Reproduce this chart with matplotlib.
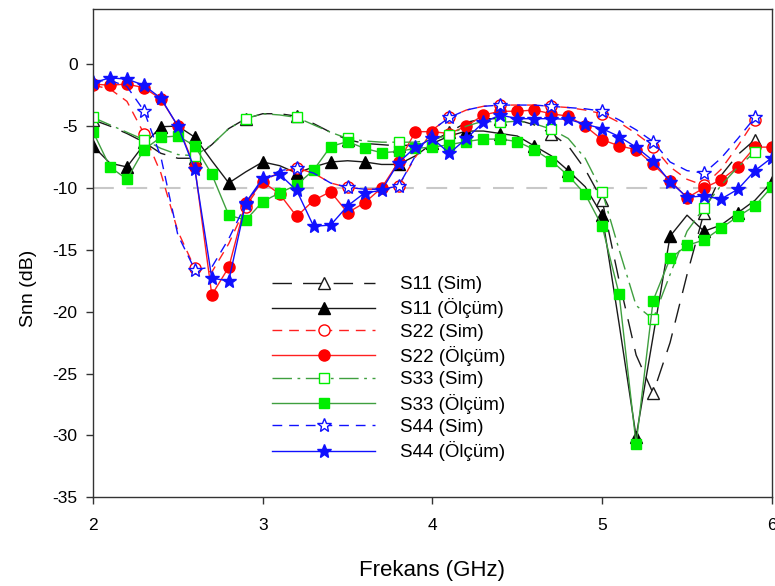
# S-parametre olcum / simulasyon karsilastirmasi

import numpy as np
import matplotlib
matplotlib.use("Agg")
import matplotlib.pyplot as plt

plt.rcParams["font.family"] = ["Liberation Sans", "DejaVu Sans"]
plt.rcParams["axes.unicode_minus"] = False

# ====================================
# DATA (dB), 2.0 - 6.0 GHz, 0.1 GHz step
# ====================================

freq = np.round(np.arange(20, 61) / 10, 1)

s11_sim = [-4.5, -5.0, -5.6, -6.3, -7.2, -7.6, -7.6, -6.5, -5.2, -4.4,
           -4.0, -4.0, -4.2, -4.8, -5.5, -6.1, -6.4, -6.5, -6.6, -6.5,
           -6.2, -5.5, -4.7, -4.4, -4.4, -4.5, -4.9, -5.6, -6.6, -8.5,
           -11.0, -17.5, -23.5, -26.6, -22.5, -17.0, -12.0, -9.0, -7.3, -6.1,
           np.nan]

s11_meas = [-6.6, -8.0, -8.3, -6.5, -5.05, -5.0, -5.9, -7.8, -9.6, -8.7,
            -7.9, -8.2, -8.8, -8.3, -7.9, -7.8, -7.9, -8.1, -8.1, -7.4,
            -6.4, -5.8, -5.4, -5.4, -5.6, -5.8, -6.6, -7.4, -8.6, -9.9,
            -12.2, -21.0, -30.1, -22.0, -13.9, -12.2, -13.5, -13.0, -12.0, -11.0,
            -9.5]

s22_sim = [-1.7, -2.0, -3.0, -5.6, -8.8, -13.5, -16.5, -16.8, -14.5, -11.5,
           -9.5, -8.7, -8.4, -8.8, -9.6, -9.95, -10.1, -10.1, -9.85, -7.5,
           -5.3, -4.3, -3.7, -3.4, -3.3, -3.3, -3.3, -3.4, -3.5, -3.7,
           -4.0, -4.7, -5.6, -6.65, -8.3, -9.3, -9.8, -8.5, -6.6, -4.5,
           np.nan]

s22_meas = [-1.6, -1.7, -1.6, -1.9, -2.8, -5.0, -8.3, -18.65, -16.4, -11.2,
            -9.5, -10.5, -12.3, -11.0, -10.3, -12.0, -11.2, -10.0, -7.9, -5.45,
            -5.45, -5.6, -5.0, -4.1, -3.8, -3.8, -3.7, -4.0, -4.2, -5.0,
            -6.1, -6.6, -6.9, -8.1, -9.4, -10.8, -10.0, -9.35, -8.3, -6.7,
            -6.7]

s33_sim = [-4.3, -4.9, -5.5, -6.1, -6.8, -7.3, -7.4, -6.5, -5.2, -4.4,
           -4.0, -4.1, -4.3, -4.9, -5.5, -6.0, -6.2, -6.3, -6.3, -6.3,
           -6.1, -5.7, -5.0, -4.6, -4.7, -4.6, -4.8, -5.25, -6.0, -7.6,
           -10.3, -15.0, -19.5, -20.6, -17.0, -13.5, -11.6, -9.8, -8.3, -7.1,
           np.nan]

s33_meas = [-5.45, -8.3, -9.3, -6.9, -5.9, -5.8, -6.6, -8.9, -12.2, -12.6,
            -11.1, -10.4, -9.75, -8.55, -6.65, -6.25, -6.8, -7.15, -7.05, -6.8,
            -6.7, -6.5, -6.25, -6.05, -6.05, -6.25, -6.9, -7.8, -9.0, -10.5,
            -13.1, -18.6, -30.7, -19.1, -15.7, -14.65, -14.2, -13.25, -12.3, -11.45,
            -9.9]

s44_sim = [-1.4, -1.3, -1.8, -3.75, -7.5, -13.8, -16.6, -16.4, -14.1, -11.3,
           -9.3, -8.6, -8.4, -8.8, -9.6, -9.95, -10.1, -10.1, -9.85, -7.4,
           -5.3, -4.3, -3.7, -3.4, -3.3, -3.3, -3.3, -3.4, -3.5, -3.6,
           -3.8, -4.5, -5.3, -6.25, -7.9, -8.6, -8.8, -7.6, -6.0, -4.3,
           np.nan]

s44_meas = [-1.5, -1.1, -1.2, -1.7, -2.75, -5.0, -8.5, -17.3, -17.5, -11.2,
            -9.2, -8.9, -10.2, -13.1, -13.0, -11.45, -10.4, -10.2, -7.95, -6.7,
            -6.0, -7.2, -6.0, -4.7, -4.1, -4.4, -4.4, -4.4, -4.45, -4.85,
            -5.2, -5.85, -6.7, -7.8, -9.5, -10.75, -10.65, -10.9, -10.1, -8.6,
            -7.55]

labels = ["S11 (Sim)", "S11 (Ölçüm)", "S22 (Sim)", "S22 (Ölçüm)",
          "S33 (Sim)", "S33 (Ölçüm)", "S44 (Sim)", "S44 (Ölçüm)"]

# ====================================
# STYLES
# ====================================

black = "#1a1a1a"
red = "#ff2020"
green_line = "#3f9f3f"
lime = "#00ee00"
blue = "#1010ff"

# ====================================
# FIGURE
# ====================================

fig = plt.figure(figsize=(7.75, 5.86), dpi=100)
ax = fig.add_axes([0.12, 0.1514, 0.876, 0.834])

ax.axhline(-10, color="#c8c8c8", lw=1.5, dashes=(10, 6), zorder=1)

ax.plot(freq, s11_sim, color=black, lw=1.0, dashes=(14, 8),
        marker="^", ms=8, mfc="white", mec=black, markevery=3,
        label=labels[0])
ax.plot(freq, s11_meas, color=black, lw=1.0,
        marker="^", ms=8, mfc="black", mec="black", markevery=2,
        label=labels[1])
ax.plot(freq, s22_sim, color=red, lw=1.0, dashes=(7, 5),
        marker="o", ms=8, mfc="white", mec="red", markevery=3,
        label=labels[2])
ax.plot(freq, s22_meas, color=red, lw=1.0,
        marker="o", ms=8, mfc="red", mec="red",
        label=labels[3])
ax.plot(freq, s33_sim, color=green_line, lw=1.0, dashes=(14, 4, 2, 4),
        marker="s", ms=7.5, mfc="white", mec=lime, markevery=3,
        label=labels[4])
ax.plot(freq, s33_meas, color=green_line, lw=1.0,
        marker="s", ms=7.5, mfc=lime, mec=lime,
        label=labels[5])
ax.plot(freq, s44_sim, color=blue, lw=1.0, dashes=(7, 5),
        marker="*", ms=10, mfc="white", mec=blue, mew=1.0, markevery=3,
        label=labels[6])
ax.plot(freq, s44_meas, color=blue, lw=1.0,
        marker="*", ms=10, mfc=blue, mec=blue,
        label=labels[7])

ax.set_xlim(2, 6)
ax.set_ylim(-35, 4.5)
ax.set_xticks([2, 3, 4, 5, 6])
ax.set_yticks([0, -5, -10, -15, -20, -25, -30, -35])

for side in ["left", "bottom", "right", "top"]:
    ax.spines[side].set_color("#333333")
    ax.spines[side].set_linewidth(1.0)

ax.tick_params(direction="out", length=5, width=1.0, colors="#333333",
               labelcolor="black", labelsize=12.5)
ax.tick_params(axis="x", pad=10)
ax.tick_params(axis="y", pad=6)

ax.set_xlabel("Frekans (GHz)", fontsize=16, labelpad=19)
ax.set_ylabel("Snn (dB)", fontsize=14)
ax.yaxis.set_label_coords(-0.082, 0.428)

ax.legend(loc="upper left", bbox_to_anchor=(0.25, 0.472),
          frameon=False, fontsize=13.5, numpoints=1,
          handlelength=5.5, handletextpad=1.3, labelspacing=0.28,
          borderpad=0)

fig.savefig("out.png", dpi=100)
